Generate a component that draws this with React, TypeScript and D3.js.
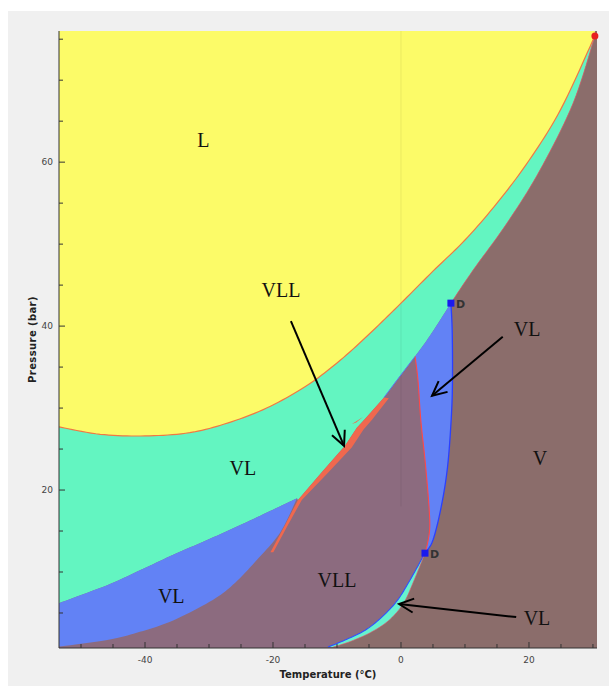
import React from 'react';
import * as d3 from 'd3';

type Pt = [number, number];

// Axis domains (Temperature °C, Pressure bar)
const T_DOMAIN: Pt = [-53.44, 30.63];
const P_DOMAIN: Pt = [0.73, 76.0];
const xTickValues = d3.range(-50, 31, 5);
const xTickLabels = [-40, -20, 0, 20];
const yTickValues = d3.range(5, 76, 5);
const yTickLabels = [20, 40, 60];

// Phase boundaries, [T, P]
const bubbleCurve: Pt[] = [
  [-53.44, 27.7], [-47, 26.8], [-40, 26.6], [-33, 27.0], [-27, 28.2], [-21, 30.0],
  [-15, 32.6], [-10, 35.5], [-5, 39.0], [0, 42.8], [5, 46.7], [10, 50.5],
  [15, 55.0], [20, 60.2], [25, 66.5], [30.3, 75.4],
];
const dewUpper: Pt[] = [
  [7.8, 42.8], [11.25, 46.8], [16.6, 52.6], [21.7, 59.0], [26.9, 67.2], [30.3, 75.4],
];
const dewRightEdge: Pt[] = [
  [7.8, 42.8], [8.0, 39.5], [8.05, 34.0], [7.9, 29.4], [7.3, 23.0], [6.3, 18.0], [5.0, 13.9], [3.75, 12.3],
];
const dLeftEdge: Pt[] = [
  [2.2, 36.3], [2.65, 33.4], [3.1, 28.5], [3.75, 23.7], [4.3, 18.8], [4.5, 15.7], [4.25, 13.9], [3.75, 12.3],
];
const dTop: Pt[] = [[7.8, 42.8], [4.5, 38.8], [2.2, 36.3]];
const greenMauve: Pt[] = [[2.2, 36.3], [-0.15, 33.9], [-2.65, 31.3]];
const bandGreenSide: Pt[] = [
  [-2.65, 31.3], [-5.6, 28.7], [-6.9, 27.6], [-8.75, 25.4], [-12.35, 22.2],
  [-16.1, 18.8], [-18.2, 15.6], [-20.4, 12.4],
];
const bandMauveSide: Pt[] = [
  [-19.95, 12.4], [-17.75, 15.6], [-15.5, 18.8], [-11.55, 22.0], [-7.7, 25.2], [-5.85, 27.4], [-4.5, 28.6], [-1.9, 31.2],
];
const bandSpike: Pt[] = [[-5.94, 28.9], [-7.66, 28.05], [-7.0, 28.25]];
const greenBlueLeft: Pt[] = [
  [-53.44, 6.2], [-45.9, 8.4], [-40.8, 10.2], [-35.6, 12.1], [-30.3, 13.9], [-25.2, 15.7],
  [-20.0, 17.6], [-16.25, 19.0],
];
const blueLower: Pt[] = [
  [-16.25, 19.0], [-18.9, 14.8], [-22.5, 11.5], [-25.9, 8.7], [-29.4, 6.6], [-35.6, 4.1],
  [-40.8, 2.7], [-45.9, 1.7], [-53.44, 0.9],
];
const sliverLeft: Pt[] = [
  [3.75, 12.3], [1.4, 9.0], [-0.6, 6.5], [-3.0, 4.5], [-5.6, 2.9], [-8.75, 1.7], [-11.4, 0.85],
];
const sliverRight: Pt[] = [
  [3.75, 12.3], [2.05, 9.0], [0.4, 6.2], [-1.9, 4.1], [-4.8, 2.6], [-8.0, 1.5], [-10.6, 0.85],
];

const criticalPoint: Pt = [30.3, 75.4];
const dPoints: Pt[] = [[7.8, 42.8], [3.75, 12.3]];

const labelTexts = ['L', 'VLL', 'VL', 'VL', 'V', 'VL', 'VLL', 'VL'];
const labelPos: Pt[] = [
  [-30.9, 62.7], [-18.75, 44.4], [19.7, 39.6], [-24.7, 22.7], [21.7, 23.9], [-35.9, 7.1], [-10.0, 9.0], [21.25, 4.4],
];
const arrowFrom: Pt[] = [[-17.2, 40.6], [15.9, 38.7], [18.0, 4.5]];
const arrowTo: Pt[] = [[-8.9, 25.4], [4.85, 31.5], [-0.3, 6.1]];

const COLORS = {
  yellow: '#fcfb68',
  green: '#63f5c1',
  blue: '#6282f5',
  mauve: '#8c6b7f',
  brown: '#8b6d6b',
  band: '#f0684e',
  panel: '#f0f0f0',
};

function catmull(pts: Pt[], n = 10): Pt[] {
  if (pts.length < 3) return pts.slice();
  const out: Pt[] = [];
  for (let i = 0; i < pts.length - 1; i++) {
    const p0 = pts[Math.max(i - 1, 0)], p1 = pts[i], p2 = pts[i + 1], p3 = pts[Math.min(i + 2, pts.length - 1)];
    for (let k = 0; k < n; k++) {
      const t = k / n, t2 = t * t, t3 = t2 * t;
      const f = (a: number, b: number, c: number, d: number) =>
        0.5 * (2 * b + (-a + c) * t + (2 * a - 5 * b + 4 * c - d) * t2 + (-a + 3 * b - 3 * c + d) * t3);
      out.push([f(p0[0], p1[0], p2[0], p3[0]), f(p0[1], p1[1], p2[1], p3[1])]);
    }
  }
  out.push(pts[pts.length - 1]);
  return out;
}

export default function App() {
  const left = 59, right = 597, top = 31, bottom = 648;
  const x = d3.scaleLinear().domain(T_DOMAIN).range([left, right]);
  const y = d3.scaleLinear().domain(P_DOMAIN).range([bottom, top]);
  const px = (p: Pt): Pt => [x(p[0]), y(p[1])];
  const sm = (pts: Pt[]) => catmull(pts.map(px));
  const rev = (a: Pt[]) => a.slice().reverse();
  const line = d3.line<Pt>();
  const poly = (pts: Pt[]) => line(pts) + 'Z';

  const [Tmin, Tmax] = T_DOMAIN;
  const [Pmin, Pmax] = P_DOMAIN;

  const sBubble = sm(bubbleCurve);
  const sDewUpper = sm(dewUpper);
  const sDewRight = sm(dewRightEdge);
  const sDLeft = sm(dLeftEdge);
  const sDTop = sm(dTop);
  const sGreenMauve = sm(greenMauve);
  const sGBL = sm(greenBlueLeft);
  const sBlueLower = sm(blueLower);
  const sSlL = sm(sliverLeft);
  const sSlR = sm(sliverRight);
  const bandPts = [...bandGreenSide, ...bandMauveSide].map(px);

  const greenPoly: Pt[] = [
    px([Tmin, Pmax]), px([criticalPoint[0], Pmax]),
    ...rev(sDewUpper), ...sDTop, ...sGreenMauve,
    ...bandGreenSide.slice(0, 6).map(px),
    ...rev(sGBL),
  ];
  const brownPoly: Pt[] = [
    px([Tmax, Pmax]), px([Tmax, Pmin]), px([sliverRight[sliverRight.length - 1][0], Pmin]),
    ...rev(sSlR), ...rev(sDewRight), ...sDewUpper, px([criticalPoint[0], Pmax]),
  ];
  const yellowPoly: Pt[] = [...sBubble, px([criticalPoint[0], Pmax]), px([Tmin, Pmax])];
  const blueLeftPoly: Pt[] = [...sGBL, ...sBlueLower, px([Tmin, Pmin])];
  const blueDPoly: Pt[] = [...sDewRight, ...rev(sDLeft), ...rev(sDTop)];
  const sliverPoly: Pt[] = [...sSlL, ...rev(sSlR)];

  const arrowHead = (from: Pt, to: Pt) => {
    const [x1, y1] = px(from), [x2, y2] = px(to);
    const a = Math.atan2(y2 - y1, x2 - x1);
    const L = 16, w = 0.45;
    const p1: Pt = [x2 - L * Math.cos(a - w), y2 - L * Math.sin(a - w)];
    const p2: Pt = [x2 - L * Math.cos(a + w), y2 - L * Math.sin(a + w)];
    return line([p1, [x2, y2], p2]) as string;
  };

  const tickFont = 'DejaVu Sans, Verdana, sans-serif';

  return (
    <svg width={609} height={686} style={{ position: 'absolute', left: 0, top: 0 }}>
      <rect x={0} y={0} width={609} height={686} fill="#ffffff" />
      <rect x={8} y={11} width={601} height={675} fill={COLORS.panel} />
      <defs>
        <clipPath id="plotClip">
          <rect x={left} y={top} width={right - left} height={bottom - top} />
        </clipPath>
      </defs>
      <g clipPath="url(#plotClip)">
        <rect x={left} y={top} width={right - left} height={bottom - top} fill={COLORS.mauve} />
        <path d={poly(greenPoly)} fill={COLORS.green} />
        <path d={poly(brownPoly)} fill={COLORS.brown} />
        <path d={poly(yellowPoly)} fill={COLORS.yellow} />
        <path d={poly(bandPts)} fill={COLORS.band} />
        <path d={poly(bandSpike.map(px))} fill={COLORS.band} />
        <path d={poly(blueLeftPoly)} fill={COLORS.blue} />
        <path d={poly(blueDPoly)} fill={COLORS.blue} />
        <path d={poly(sliverPoly)} fill="#66f2cf" />
        <line x1={x(0)} x2={x(0)} y1={top} y2={y(18)} stroke="#000" strokeOpacity={0.07} strokeWidth={1} />
        <path d={line(sBubble)!} fill="none" stroke="#f07844" strokeWidth={1.2} />
        <path d={line(sDewUpper)!} fill="none" stroke="#d9606a" strokeWidth={0.9} strokeOpacity={0.8} />
        <path d={line(sDewRight)!} fill="none" stroke="#2a40ff" strokeWidth={1.3} />
        <path d={line(sDLeft)!} fill="none" stroke="#ff4848" strokeWidth={1.1} />
        <path d={line(sGreenMauve)!} fill="none" stroke="#5a78f0" strokeWidth={1} />
        <path d={line(sSlL)!} fill="none" stroke="#3050ff" strokeWidth={1.1} />
        <path d={line(sSlR)!} fill="none" stroke="#e05a6a" strokeWidth={0.8} strokeOpacity={0.8} />
      </g>

      {/* axes */}
      <line x1={left} x2={left} y1={top} y2={bottom} stroke="#333" strokeWidth={1} />
      <line x1={left} x2={right} y1={bottom} y2={bottom} stroke="#333" strokeWidth={1} />
      {xTickValues.map((t) => (
        <line key={'xt' + t} x1={x(t)} x2={x(t)} y1={bottom} y2={bottom - (t % 20 === 0 ? 6 : 4)} stroke="#333" strokeWidth={1} />
      ))}
      {yTickValues.map((p) => (
        <line key={'yt' + p} x1={left} x2={left + (p % 20 === 0 ? 6 : 4)} y1={y(p)} y2={y(p)} stroke="#333" strokeWidth={1} />
      ))}
      {xTickLabels.map((t) => (
        <text key={'xl' + t} x={x(t)} y={660} textAnchor="middle" dominantBaseline="central" fontFamily={tickFont} fontSize={9} fill="#444">{t}</text>
      ))}
      {yTickLabels.map((p) => (
        <text key={'yl' + p} x={53} y={y(p)} textAnchor="end" dominantBaseline="central" fontFamily={tickFont} fontSize={9} fill="#444">{p}</text>
      ))}
      <text x={(left + right) / 2} y={674} textAnchor="middle" dominantBaseline="central" fontFamily={tickFont} fontWeight="bold" fontSize={10} fill="#222">Temperature (°C)</text>
      <text transform={`translate(32,${(top + bottom) / 2}) rotate(-90)`} textAnchor="middle" dominantBaseline="central" fontFamily={tickFont} fontWeight="bold" fontSize={10} fill="#222" letterSpacing={0.4}>Pressure (bar)</text>

      {/* critical point & D points */}
      <circle cx={x(criticalPoint[0])} cy={y(criticalPoint[1])} r={3.5} fill="#e82020" />
      {dPoints.map((d, i) => (
        <g key={'d' + i}>
          <rect x={x(d[0]) - 3.5} y={y(d[1]) - 3.5} width={7} height={7} fill="#1a1aee" />
          <text x={x(d[0]) + 5} y={y(d[1]) + 1} dominantBaseline="central" fontFamily={tickFont} fontWeight="bold" fontSize={11} fill="#333">D</text>
        </g>
      ))}

      {/* region labels */}
      {labelTexts.map((s, i) => (
        <text key={'lab' + i} x={x(labelPos[i][0])} y={y(labelPos[i][1])} textAnchor="middle" dominantBaseline="central"
          fontFamily="Liberation Serif, Times New Roman, serif" fontSize={20} fill="#111">{s}</text>
      ))}

      {/* arrows */}
      {arrowFrom.map((f, i) => (
        <g key={'ar' + i} stroke="#000" strokeWidth={2} fill="none">
          <line x1={x(f[0])} y1={y(f[1])} x2={x(arrowTo[i][0])} y2={y(arrowTo[i][1])} />
          <path d={arrowHead(f, arrowTo[i])} strokeLinejoin="miter" />
        </g>
      ))}
    </svg>
  );
}
